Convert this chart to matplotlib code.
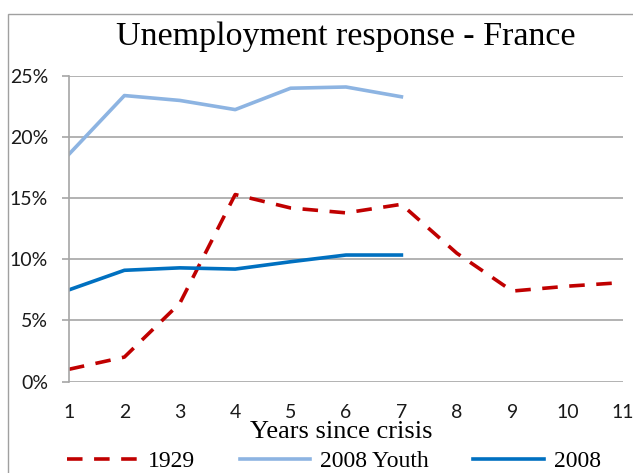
import matplotlib
matplotlib.use("Agg")
import matplotlib.pyplot as plt
from matplotlib.ticker import FuncFormatter
from matplotlib.patches import Rectangle

years = list(range(1, 12))
y1929 = [1.0, 2.0, 6.4, 15.3, 14.2, 13.8, 14.5, 10.5, 7.4, 7.8, 8.1]
youth2008 = [18.6, 23.4, 23.0, 22.25, 24.0, 24.1, 23.3]
all2008 = [7.5, 9.1, 9.3, 9.2, 9.8, 10.35, 10.35]
yticks = [0, 5, 10, 15, 20, 25]

W, H = 633, 473
fig = plt.figure(figsize=(W / 100, H / 100), dpi=100)
ax = fig.add_axes([69 / W, 1 - 381.5 / H, (623 - 69) / W, (381.5 - 76) / H])

c1929 = "#C00000"
cyouth = "#8DB4E2"
c2008 = "#0070C0"

l1, = ax.plot(years, y1929, color=c1929, lw=2.6, dashes=(4.3, 3.2), label="1929")
l2, = ax.plot(years[:len(youth2008)], youth2008, color=cyouth, lw=2.6, label="2008 Youth")
l3, = ax.plot(years[:len(all2008)], all2008, color=c2008, lw=2.6, label="2008")

ax.set_xlim(1, 11)
ax.set_ylim(0, 25)
ax.set_yticks(yticks)
ax.yaxis.set_major_formatter(FuncFormatter(lambda v, p: f"{int(v)}%"))
ax.set_xticks(years)
ax.grid(axis="y", color="#A6A6A6", lw=1.2)
ax.set_axisbelow(True)
for s in ["top", "right"]:
    ax.spines[s].set_visible(False)
ax.spines["bottom"].set_visible(False)
ax.spines["left"].set_color("#A6A6A6")
ax.spines["left"].set_linewidth(1.2)
ax.tick_params(axis="y", length=5, color="#A6A6A6", width=1.2, pad=10, labelsize=14)
ax.tick_params(axis="x", length=0, pad=16, labelsize=14)
for lab in ax.get_xticklabels() + ax.get_yticklabels():
    lab.set_fontfamily("Lato")
    lab.set_color("#1a1a1a")

fig.text(346 / W, 1 - 37 / H, "Unemployment response - France", ha="center", va="center",
         fontsize=24.5, family="Liberation Serif")
fig.text(341 / W, 1 - 432 / H, "Years since crisis", ha="center", va="center",
         fontsize=19, family="Liberation Serif")

leg = fig.legend(handles=[l1, l2, l3], loc="center", bbox_to_anchor=(334 / W, 1 - 461 / H),
                 ncol=3, frameon=False, handlelength=3.0, columnspacing=1.9, handletextpad=0.4,
                 prop={"family": "Liberation Serif", "size": 17})

fig.add_artist(Rectangle((8 / W, -0.1), 1.2, 1 - 14 / H + 0.1, transform=fig.transFigure,
                         fill=False, edgecolor="#A0A0A0", lw=1.0))

fig.savefig("out.png", dpi=100)
